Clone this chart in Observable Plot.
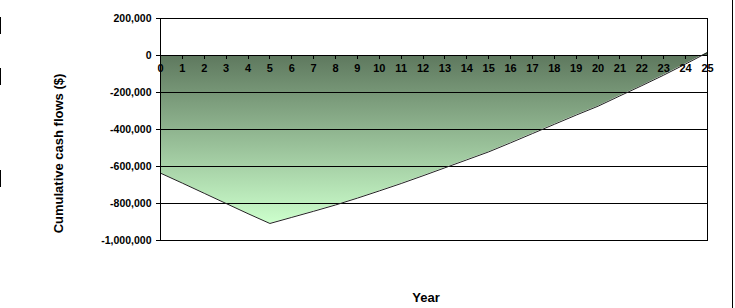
<!DOCTYPE html>
<html>
<head>
<meta charset="utf-8">
<script src="https://cdn.jsdelivr.net/npm/d3@7"></script>
<script src="https://cdn.jsdelivr.net/npm/@observablehq/plot@0.6"></script>
<style>
  html, body { margin: 0; padding: 0; background: #fff; }
  #wrap { position: relative; width: 735px; height: 308px; overflow: hidden; font-family: "Liberation Sans", Arial, sans-serif; }
  .edge { position: absolute; background: #000; }
</style>
</head>
<body>
<div id="wrap">
  <div class="edge" style="left:0;top:17px;width:1px;height:17px"></div>
  <div class="edge" style="left:0;top:68px;width:1px;height:17px"></div>
  <div class="edge" style="left:0;top:170px;width:1px;height:17px"></div>
  <div class="edge" style="left:732px;top:0;width:1px;height:308px"></div>
</div>
<script>
// Data
const years = [0,1,2,3,4,5,6,7,8,9,10,11,12,13,14,15,16,17,18,19,20,21,22,23,24,25];
const cumulativeCashFlows = [
  -636000, -690000, -745000, -800000, -855000, -908000,
  -875000, -842000, -808000, -771000, -732000, -692000,
  -650000, -607000, -564000, -521000, -472000, -422000,
  -372000, -322000, -274000, -218000, -163000, -106000,
  -46000, 16000
];
const yTicks = [-1000000, -800000, -600000, -400000, -200000, 0, 200000];
const gridValues = [-800000, -600000, -400000, -200000, 0];
const yTitle = "Cumulative cash flows ($)";
const xTitle = "Year";

const data = years.map((y, i) => ({year: y, value: cumulativeCashFlows[i]}));
const minValue = d3.min(cumulativeCashFlows);
const fmt = d => d.toLocaleString("en-US");

const svgNS = "http://www.w3.org/2000/svg";

// gradient definition built from the y scale
function gradientDefs(index, scales) {
  const defs = document.createElementNS(svgNS, "defs");
  const lg = document.createElementNS(svgNS, "linearGradient");
  lg.setAttribute("id", "cfGrad");
  lg.setAttribute("gradientUnits", "userSpaceOnUse");
  lg.setAttribute("x1", 0); lg.setAttribute("x2", 0);
  lg.setAttribute("y1", scales.y(0));
  lg.setAttribute("y2", scales.y(minValue));
  [["0%", "#5e785e"], ["100%", "#ccffcc"]].forEach(([o, c]) => {
    const s = document.createElementNS(svgNS, "stop");
    s.setAttribute("offset", o); s.setAttribute("stop-color", c);
    lg.appendChild(s);
  });
  defs.appendChild(lg);
  return defs;
}

// x tick marks hanging from the zero line
function zeroTicks(index, scales) {
  const g = document.createElementNS(svgNS, "g");
  const y0 = scales.y(0);
  for (const yr of years) {
    const l = document.createElementNS(svgNS, "line");
    const x = Math.round(scales.x(yr)) + 0.5;
    l.setAttribute("x1", x); l.setAttribute("x2", x);
    l.setAttribute("y1", y0); l.setAttribute("y2", y0 + 4);
    l.setAttribute("stroke", "#000");
    g.appendChild(l);
  }
  return g;
}

const chart = Plot.plot({
  width: 735,
  height: 308,
  marginLeft: 160,
  marginRight: 28,
  marginTop: 18,
  marginBottom: 68,
  style: {fontFamily: "'Liberation Sans', Arial, sans-serif", background: "transparent", overflow: "visible"},
  x: {domain: [0, 25], axis: null},
  y: {domain: [-1000000, 200000], axis: null},
  marks: [
    gradientDefs,
    Plot.areaY(data, {x: "year", y: "value", fill: "url(#cfGrad)"}),
    Plot.ruleY(gridValues, {stroke: "#000", strokeWidth: 1}),
    Plot.lineY(data, {x: "year", y: "value", stroke: "#222", strokeWidth: 1}),
    Plot.frame({stroke: "#000", strokeWidth: 1}),
    zeroTicks,
    Plot.text(years, {x: d => d, y: () => 0, text: d => String(d), dy: 13, fontSize: 11, fontWeight: "bold", fill: "#000"}),
    Plot.axisY({ticks: yTicks, tickFormat: fmt, tickSize: 4, tickPadding: 5, fontSize: 10.5, fontWeight: "bold", label: null, stroke: "#000", color: "#000"}),
    Plot.text([yTitle], {frameAnchor: "left", textAnchor: "middle", text: d => d, rotate: -90, dx: -102, dy: 24, fontSize: 13, fontWeight: "bold", fill: "#000"}),
    Plot.text([xTitle], {frameAnchor: "bottom", text: d => d, dx: -8, dy: 61, fontSize: 13, fontWeight: "bold", fill: "#000"})
  ]
});
chart.style.position = "absolute";
chart.style.left = "0";
chart.style.top = "0";
document.getElementById("wrap").appendChild(chart);
</script>
</body>
</html>
